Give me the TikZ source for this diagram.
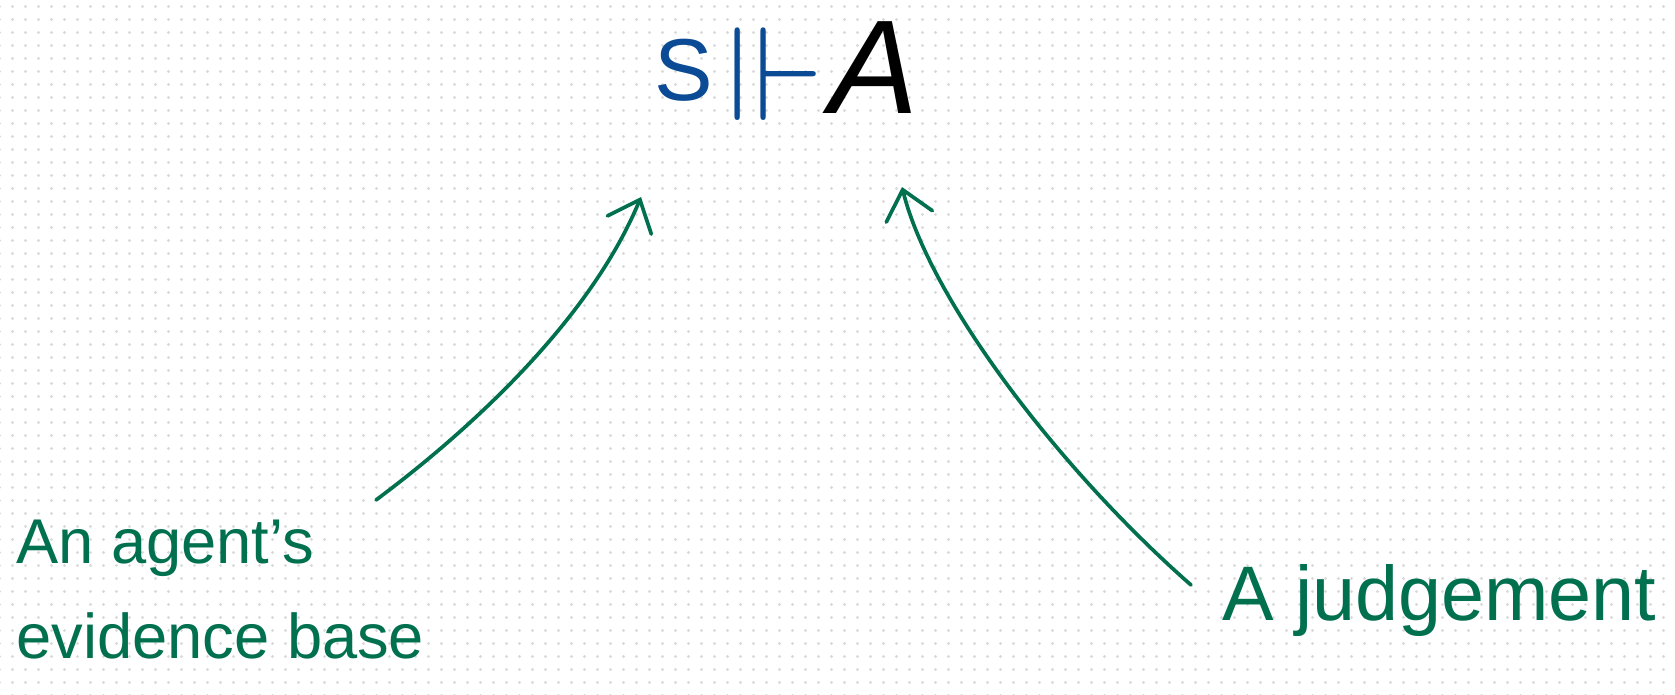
\documentclass[tikz,border=0pt]{standalone}
\usepackage{amssymb}
\usepackage{fontspec}
\setmainfont{Liberation Sans}
\usetikzlibrary{arrows.meta,patterns.meta}
\definecolor{InkBlue}{HTML}{0B4A94}
\definecolor{InkGreen}{HTML}{00704F}
\definecolor{DotGrey}{HTML}{DADADA}

\begin{document}
\begin{tikzpicture}[x=0.02cm,y=-0.02cm,every node/.style={inner sep=0pt},
    pen/.style={InkGreen, line width=2.1pt, line cap=round,
      -{Straight Barb[length=0.55cm,width=0.95cm,line cap=round]}}]
  % dotted paper
  \fill[white] (0,0) rectangle (1675,695);
  \fill[pattern={Dots[distance=0.26cm,radius=0.032cm]},pattern color=DotGrey]
    (0,0) rectangle (1675,695);
  \useasboundingbox (0,0) rectangle (1675,695);
  % the judgement
  \node[InkBlue, font=\fontsize{50}{56}\selectfont] (S) at (684,70) {S};
  \node[InkBlue, font=\fontsize{76}{84}\selectfont] (frc) at (776,74) {$\Vdash$};
  \node[font=\fontsize{76}{80}\selectfont\itshape] (A) at (874,68) {A};
  % labels
  \node[InkGreen, font=\fontsize{36}{54}\selectfont, align=left, anchor=north west]
    (agent) at (16,520) {An agent's\\evidence base};
  \node[InkGreen, font=\fontsize{44}{48}\selectfont, anchor=base west]
    (judge) at (1222,620) {A judgement};
  % arrows
  \coordinate (start1) at (376,500);
  \coordinate (tip1) at (641,197);
  \coordinate (start2) at (1191,585);
  \coordinate (tip2) at (902,187);
  \draw[pen] (start1) .. controls (470,430) and (590,320) .. (tip1);
  \draw[pen] (start2) .. controls (1060,470) and (930,300) .. (tip2);
\end{tikzpicture}
\end{document}
